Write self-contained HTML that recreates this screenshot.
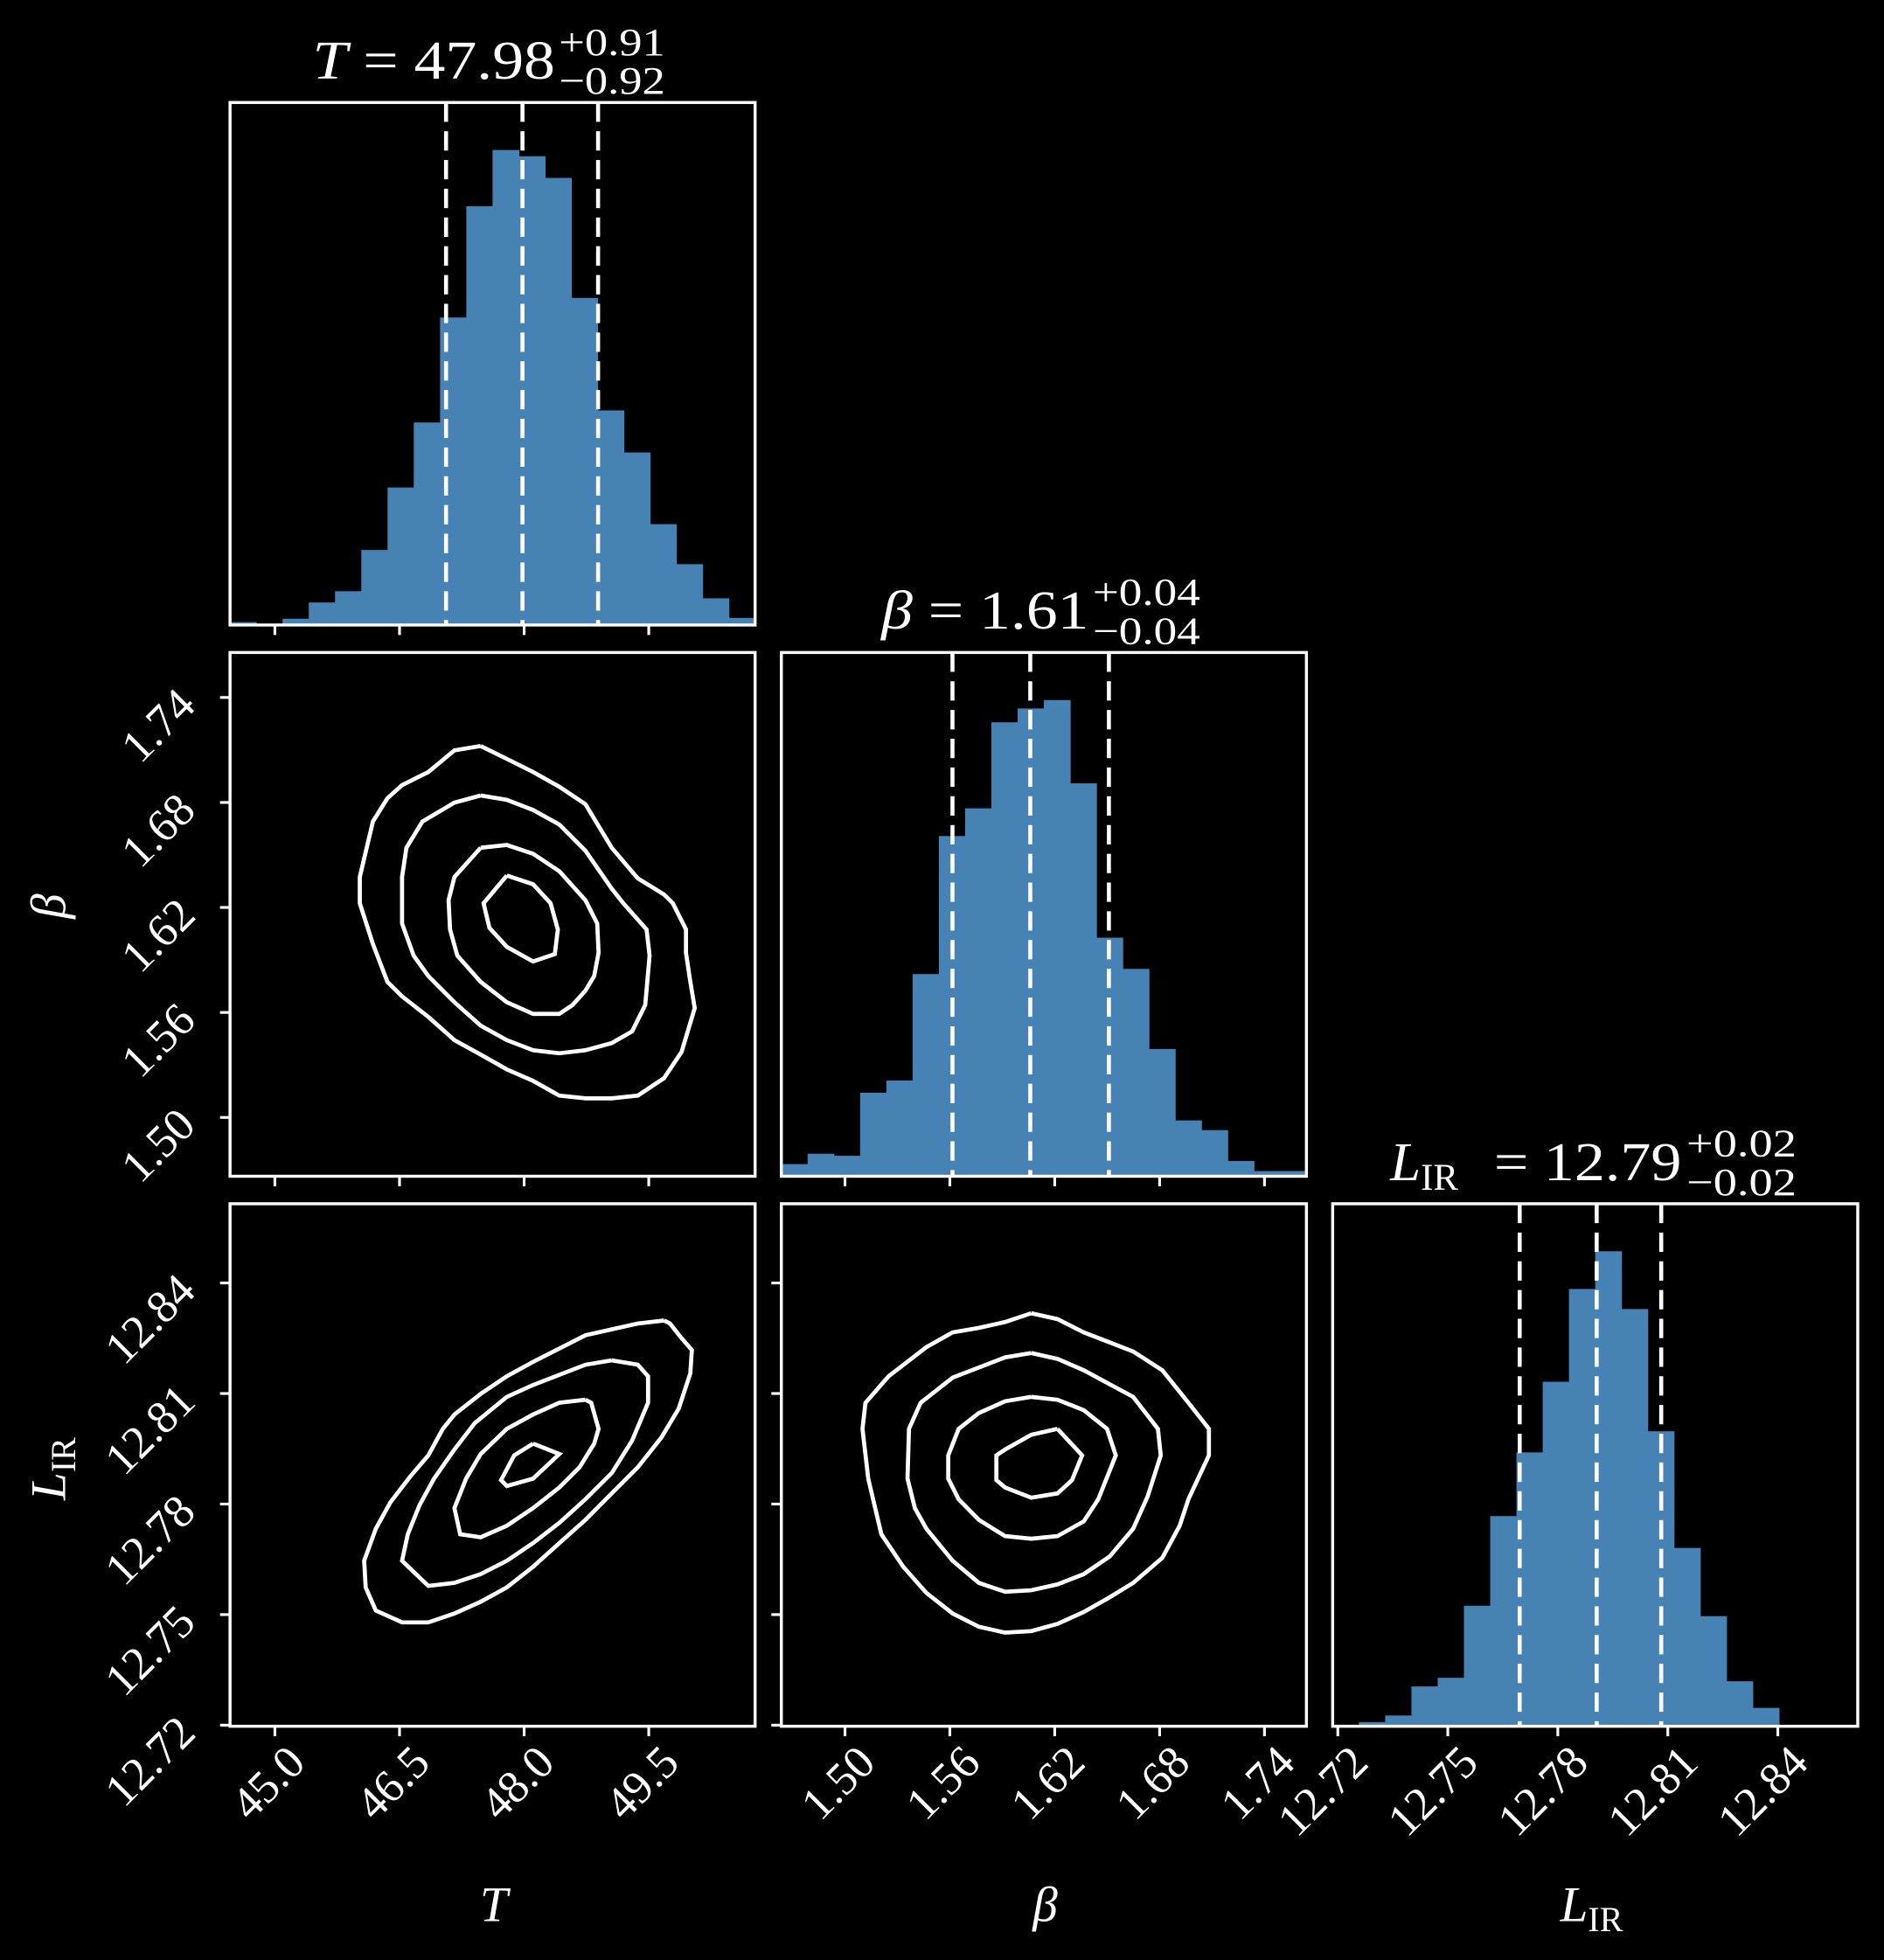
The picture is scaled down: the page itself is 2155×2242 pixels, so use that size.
<!DOCTYPE html>
<html><head><meta charset="utf-8"><style>
html,body{margin:0;padding:0;background:#000;}
svg{display:block;}
text{font-family:"Liberation Serif","DejaVu Serif",serif;fill:#fff;}
</style></head><body>
<svg id="chart" xmlns="http://www.w3.org/2000/svg" width="2155" height="2242" viewBox="0 0 1507 1568" preserveAspectRatio="none">
<rect x="0" y="0" width="1507" height="1568" fill="#000"/>
<g id="layer"></g>
<!-- titles -->
<g>
  <text x="250" y="63" font-size="44" textLength="194" lengthAdjust="spacingAndGlyphs"><tspan font-style="italic">T</tspan> = 47.98</text>
  <text x="447" y="44" font-size="31" textLength="85" lengthAdjust="spacingAndGlyphs">+0.91</text>
  <text x="447" y="75" font-size="31" textLength="85" lengthAdjust="spacingAndGlyphs">−0.92</text>
</g>
<g>
  <text x="705" y="503" font-size="44" textLength="166" lengthAdjust="spacingAndGlyphs"><tspan font-style="italic">β</tspan> = 1.61</text>
  <text x="874" y="484" font-size="31" textLength="86" lengthAdjust="spacingAndGlyphs">+0.04</text>
  <text x="874" y="515" font-size="31" textLength="86" lengthAdjust="spacingAndGlyphs">−0.04</text>
</g>
<g>
  <text x="1112" y="944" font-size="44"><tspan font-style="italic">L</tspan><tspan font-size="30" dy="8">IR</tspan></text>
  <text x="1195" y="944" font-size="44" textLength="150" lengthAdjust="spacingAndGlyphs">= 12.79</text>
  <text x="1349" y="925" font-size="31" textLength="88" lengthAdjust="spacingAndGlyphs">+0.02</text>
  <text x="1349" y="956" font-size="31" textLength="88" lengthAdjust="spacingAndGlyphs">−0.02</text>
</g>
<!-- axis labels -->
<text x="395" y="1537" font-size="40" font-style="italic" text-anchor="middle">T</text>
<text x="836" y="1537" font-size="40" font-style="italic" text-anchor="middle">β</text>
<text x="1248" y="1537" font-size="40"><tspan font-style="italic">L</tspan><tspan font-size="28" dy="8">IR</tspan></text>
<text x="52" y="725" font-size="40" font-style="italic" text-anchor="middle" transform="rotate(-90 52 725)">β</text>
<text x="52" y="1175" font-size="40" text-anchor="middle" transform="rotate(-90 52 1175)"><tspan font-style="italic">L</tspan><tspan font-size="28" dy="8">IR</tspan></text>
</svg>
<script>
// ---------- data ----------
const tTicks = [45.0, 46.5, 48.0, 49.5];
const tTickLabels = ["45.0", "46.5", "48.0", "49.5"];
const bTicks = [1.50, 1.56, 1.62, 1.68, 1.74];
const bTickLabels = ["1.50", "1.56", "1.62", "1.68", "1.74"];
const lTicks = [12.72, 12.75, 12.78, 12.81, 12.84];
const lTickLabels = ["12.72", "12.75", "12.78", "12.81", "12.84"];

const tHist = [7,3,15,54,81,180,330,486,738,1005,1140,1125,1073,785,515,414,242,146,64,17];
const bHist = [35,65,59,241,276,583,981,1061,1309,1349,1373,1133,688,598,367,161,133,44,15,15];
const lHist = [2,12,31,115,140,348,607,791,995,1263,1372,1205,852,515,318,130,53,0,0,0];

const tQuant = [47.06, 47.98, 48.89];
const bQuant = [1.5615, 1.606, 1.651];
const lQuant = [12.7696, 12.7906, 12.8082];

const tbC1 = [[47.477,1.7123],[47.161,1.7098],[46.846,1.6974],[46.530,1.6899],[46.355,1.6824],[46.180,1.6691],[46.022,1.6374],[46.022,1.6224],[46.180,1.5991],[46.355,1.5775],[46.530,1.5692],[46.846,1.5575],[47.161,1.5442],[47.477,1.5359],[47.792,1.5275],[48.108,1.5209],[48.423,1.5125],[48.738,1.5109],[49.054,1.5109],[49.369,1.5125],[49.685,1.5225],[49.895,1.5375],[50.053,1.5625],[50.000,1.5775],[49.948,1.5941],[49.948,1.6074],[49.790,1.6224],[49.685,1.6274],[49.369,1.6366],[49.054,1.6541],[48.738,1.6790],[48.423,1.6890],[48.108,1.6974],[47.792,1.7049],[47.477,1.7123]];
const tbC2 = [[47.477,1.6840],[47.161,1.6799],[46.776,1.6691],[46.583,1.6541],[46.530,1.6374],[46.530,1.6108],[46.670,1.5925],[46.846,1.5808],[47.161,1.5658],[47.477,1.5525],[47.792,1.5442],[48.108,1.5384],[48.423,1.5367],[48.738,1.5384],[49.054,1.5425],[49.299,1.5492],[49.457,1.5642],[49.510,1.5925],[49.474,1.6074],[49.194,1.6224],[49.054,1.6308],[48.738,1.6524],[48.423,1.6674],[48.108,1.6757],[47.792,1.6815],[47.477,1.6840]];
const tbC3 = [[47.477,1.6541],[47.792,1.6557],[48.108,1.6507],[48.423,1.6407],[48.738,1.6241],[48.879,1.6108],[48.896,1.5941],[48.844,1.5808],[48.738,1.5725],[48.581,1.5642],[48.423,1.5592],[48.108,1.5592],[47.792,1.5658],[47.477,1.5775],[47.196,1.5925],[47.109,1.6074],[47.091,1.6241],[47.161,1.6374],[47.477,1.6541]];
const tbC4 = [[47.792,1.6383],[48.108,1.6333],[48.318,1.6224],[48.405,1.6074],[48.370,1.5933],[48.108,1.5891],[47.792,1.5975],[47.582,1.6083],[47.512,1.6224],[47.792,1.6383]];

const tlC1 = [[49.685,12.8298],[49.369,12.8290],[48.738,12.8258],[48.108,12.8186],[47.792,12.8147],[47.477,12.8099],[47.161,12.8043],[47.021,12.8004],[46.846,12.7932],[46.635,12.7876],[46.390,12.7805],[46.215,12.7733],[46.075,12.7646],[46.092,12.7574],[46.215,12.7511],[46.530,12.7479],[46.846,12.7479],[47.161,12.7503],[47.477,12.7535],[47.792,12.7574],[48.108,12.7630],[48.423,12.7694],[48.738,12.7757],[49.054,12.7829],[49.369,12.7900],[49.650,12.7980],[49.860,12.8059],[50.000,12.8155],[50.018,12.8218],[49.895,12.8250],[49.755,12.8290],[49.685,12.8298]];
const tlC2 = [[49.054,12.8190],[48.738,12.8178],[48.108,12.8123],[47.792,12.8091],[47.406,12.8020],[47.161,12.7948],[46.916,12.7869],[46.741,12.7797],[46.600,12.7718],[46.530,12.7646],[46.846,12.7578],[47.161,12.7586],[47.477,12.7610],[47.792,12.7646],[48.108,12.7694],[48.423,12.7749],[48.738,12.7813],[49.054,12.7884],[49.299,12.7972],[49.492,12.8075],[49.492,12.8147],[49.369,12.8178],[49.054,12.8190]];
const tlC3 = [[48.738,12.8083],[48.423,12.8075],[48.108,12.8043],[47.792,12.8004],[47.477,12.7936],[47.301,12.7869],[47.161,12.7789],[47.231,12.7718],[47.477,12.7710],[47.792,12.7741],[48.108,12.7789],[48.423,12.7845],[48.668,12.7900],[48.844,12.7964],[48.896,12.8004],[48.808,12.8075],[48.738,12.8083]];
const tlC4 = [[48.108,12.7964],[48.423,12.7936],[48.108,12.7869],[47.792,12.7849],[47.722,12.7865],[47.880,12.7932],[48.108,12.7964]];

const blC1 = [[1.6066,12.8318],[1.5916,12.8294],[1.5766,12.8278],[1.5616,12.8266],[1.5466,12.8226],[1.5250,12.8147],[1.5117,12.8075],[1.5100,12.8004],[1.5133,12.7869],[1.5208,12.7718],[1.5333,12.7630],[1.5466,12.7559],[1.5616,12.7503],[1.5766,12.7467],[1.5916,12.7451],[1.6066,12.7455],[1.6216,12.7475],[1.6366,12.7507],[1.6515,12.7547],[1.6649,12.7586],[1.6815,12.7654],[1.6915,12.7741],[1.6965,12.7813],[1.7082,12.7932],[1.7082,12.8004],[1.6965,12.8075],[1.6815,12.8163],[1.6649,12.8214],[1.6366,12.8266],[1.6216,12.8302],[1.6066,12.8318]];
const blC2 = [[1.6066,12.8210],[1.5916,12.8198],[1.5616,12.8143],[1.5433,12.8075],[1.5366,12.8004],[1.5358,12.7869],[1.5400,12.7789],[1.5466,12.7733],[1.5616,12.7646],[1.5766,12.7586],[1.5916,12.7562],[1.6066,12.7566],[1.6216,12.7582],[1.6366,12.7610],[1.6515,12.7658],[1.6649,12.7733],[1.6732,12.7821],[1.6807,12.7932],[1.6790,12.8004],[1.6649,12.8091],[1.6366,12.8163],[1.6216,12.8194],[1.6066,12.8210]];
const blC3 = [[1.6066,12.8091],[1.5916,12.8079],[1.5766,12.8047],[1.5650,12.8004],[1.5591,12.7932],[1.5591,12.7869],[1.5650,12.7813],[1.5766,12.7757],[1.5916,12.7713],[1.6066,12.7706],[1.6216,12.7713],[1.6366,12.7753],[1.6449,12.7813],[1.6549,12.7932],[1.6499,12.8004],[1.6366,12.8055],[1.6216,12.8083],[1.6066,12.8091]];
const blC4 = [[1.6216,12.8004],[1.6357,12.7932],[1.6299,12.7865],[1.6216,12.7829],[1.6066,12.7817],[1.5916,12.7845],[1.5866,12.7865],[1.5866,12.7932],[1.5916,12.7948],[1.6066,12.7988],[1.6216,12.8004]];

// ---------- layout ----------
const NS = "http://www.w3.org/2000/svg";
const layer = document.getElementById("layer");
const colX = [[184,604],[625,1045],[1066,1486]];
const rowY = [[82,500],[522,941],[963,1381]];
const tDom = [44.46, 50.78], bDom = [1.4636, 1.764], lDom = [12.7186, 12.8618];
const bDomY = [1.4664, 1.7657], lDomY = [12.7197, 12.8615];
function lin(d, r){ return v => r[0] + (v - d[0]) / (d[1] - d[0]) * (r[1] - r[0]); }
const xT = lin(tDom, colX[0]), xB = lin(bDom, colX[1]), xL = lin(lDom, colX[2]);
const yB = lin(bDomY, [rowY[1][1], rowY[1][0]]);
const yL = lin(lDomY, [rowY[2][1], rowY[2][0]]);

function mk(tag, attrs, parent){
  const e = document.createElementNS(NS, tag);
  for (const k in attrs) e.setAttribute(k, attrs[k]);
  (parent || layer).appendChild(e);
  return e;
}

function drawHist(counts, dom, xs, row, name, quants){
  const g = mk("g", {});
  
  
  const maxC = Math.max(...counts);
  const top = rowY[row][0], bot = rowY[row][1];
  const yh = lin([0, maxC * 1.1], [bot, top]);
  const w = (dom[1] - dom[0]) / counts.length;
  counts.forEach((c, i) => {
    if (c <= 0) return;
    const x0 = xs(dom[0] + i * w), x1 = xs(dom[0] + (i + 1) * w);
    const r = mk("rect", {x: x0, y: yh(c), width: x1 - x0 + 0.4, height: bot - yh(c), fill: "#4682b4"}, g);
    
    
  });
  quants.forEach(q => {
    const l = mk("line", {x1: xs(q), x2: xs(q), y1: top, y2: bot, stroke: "#fff", "stroke-width": 3.2, "stroke-dasharray": "15.5 7.5"}, g);
    
    
  });
}
drawHist(tHist, tDom, xT, 0, "t", tQuant);
drawHist(bHist, bDom, xB, 1, "beta", bQuant);
drawHist(lHist, lDom, xL, 2, "lir", lQuant);

function drawContours(sets, xs, ys, name){
  const g = mk("g", {});
  
  
  sets.forEach(pts => {
    const p = mk("polyline", {points: pts.map(q => xs(q[0]).toFixed(1) + "," + ys(q[1]).toFixed(1)).join(" "), fill: "none", stroke: "#fff", "stroke-width": 3.3, "stroke-linejoin": "miter"}, g);
    
    
  });
}
drawContours([tbC1, tbC2, tbC3, tbC4], xT, yB, "t-beta");
drawContours([tlC1, tlC2, tlC3, tlC4], xT, yL, "t-lir");
drawContours([blC1, blC2, blC3, blC4], xB, yL, "beta-lir");

const panels = [[0,0],[0,1],[1,1],[0,2],[1,2],[2,2]];
panels.forEach(([c, r]) => {
  const f = mk("rect", {x: colX[c][0], y: rowY[r][0], width: colX[c][1] - colX[c][0], height: rowY[r][1] - rowY[r][0], fill: "none", stroke: "#fff", "stroke-width": 2.4});
  
  
});

function xTicks(ticks, xs, row){
  const yb = rowY[row][1];
  ticks.forEach(t => {
    const l = mk("line", {x1: xs(t), x2: xs(t), y1: yb, y2: yb + 8, stroke: "#fff", "stroke-width": 2.2});
    
    
  });
}
function yTicks(ticks, ys, col){
  const xl = colX[col][0];
  ticks.forEach(t => {
    const l = mk("line", {x1: xl - 8, x2: xl, y1: ys(t), y2: ys(t), stroke: "#fff", "stroke-width": 2.2});
    
    
  });
}
xTicks(tTicks, xT, 0); xTicks(tTicks, xT, 1); xTicks(tTicks, xT, 2);
xTicks(bTicks, xB, 1); xTicks(bTicks, xB, 2);
xTicks(lTicks, xL, 2);
yTicks(bTicks, yB, 0);
yTicks(lTicks, yL, 0); yTicks(lTicks, yL, 1);

function xLabels(ticks, labels, xs, name){
  ticks.forEach((t, i) => {
    const ex = xs(t) + 26, ey = 1412;
    const tx = mk("text", {x: ex, y: ey, "text-anchor": "end", "font-size": 37, transform: `rotate(-45 ${ex} ${ey})`});
    tx.textContent = labels[i];
    
    
  });
}
function yLabels(ticks, labels, ys, name){
  ticks.forEach((t, i) => {
    const ex = 158, ey = ys(t) + 8;
    const tx = mk("text", {x: ex, y: ey, "text-anchor": "end", "font-size": 37, transform: `rotate(-45 ${ex} ${ey})`});
    tx.textContent = labels[i];
    
    
  });
}
xLabels(tTicks, tTickLabels, xT, "t-x");
xLabels(bTicks, bTickLabels, xB, "beta-x");
xLabels(lTicks, lTickLabels, xL, "lir-x");
yLabels(bTicks, bTickLabels, yB, "beta-y");
yLabels(lTicks, lTickLabels, yL, "lir-y");
</script>
</body></html>
